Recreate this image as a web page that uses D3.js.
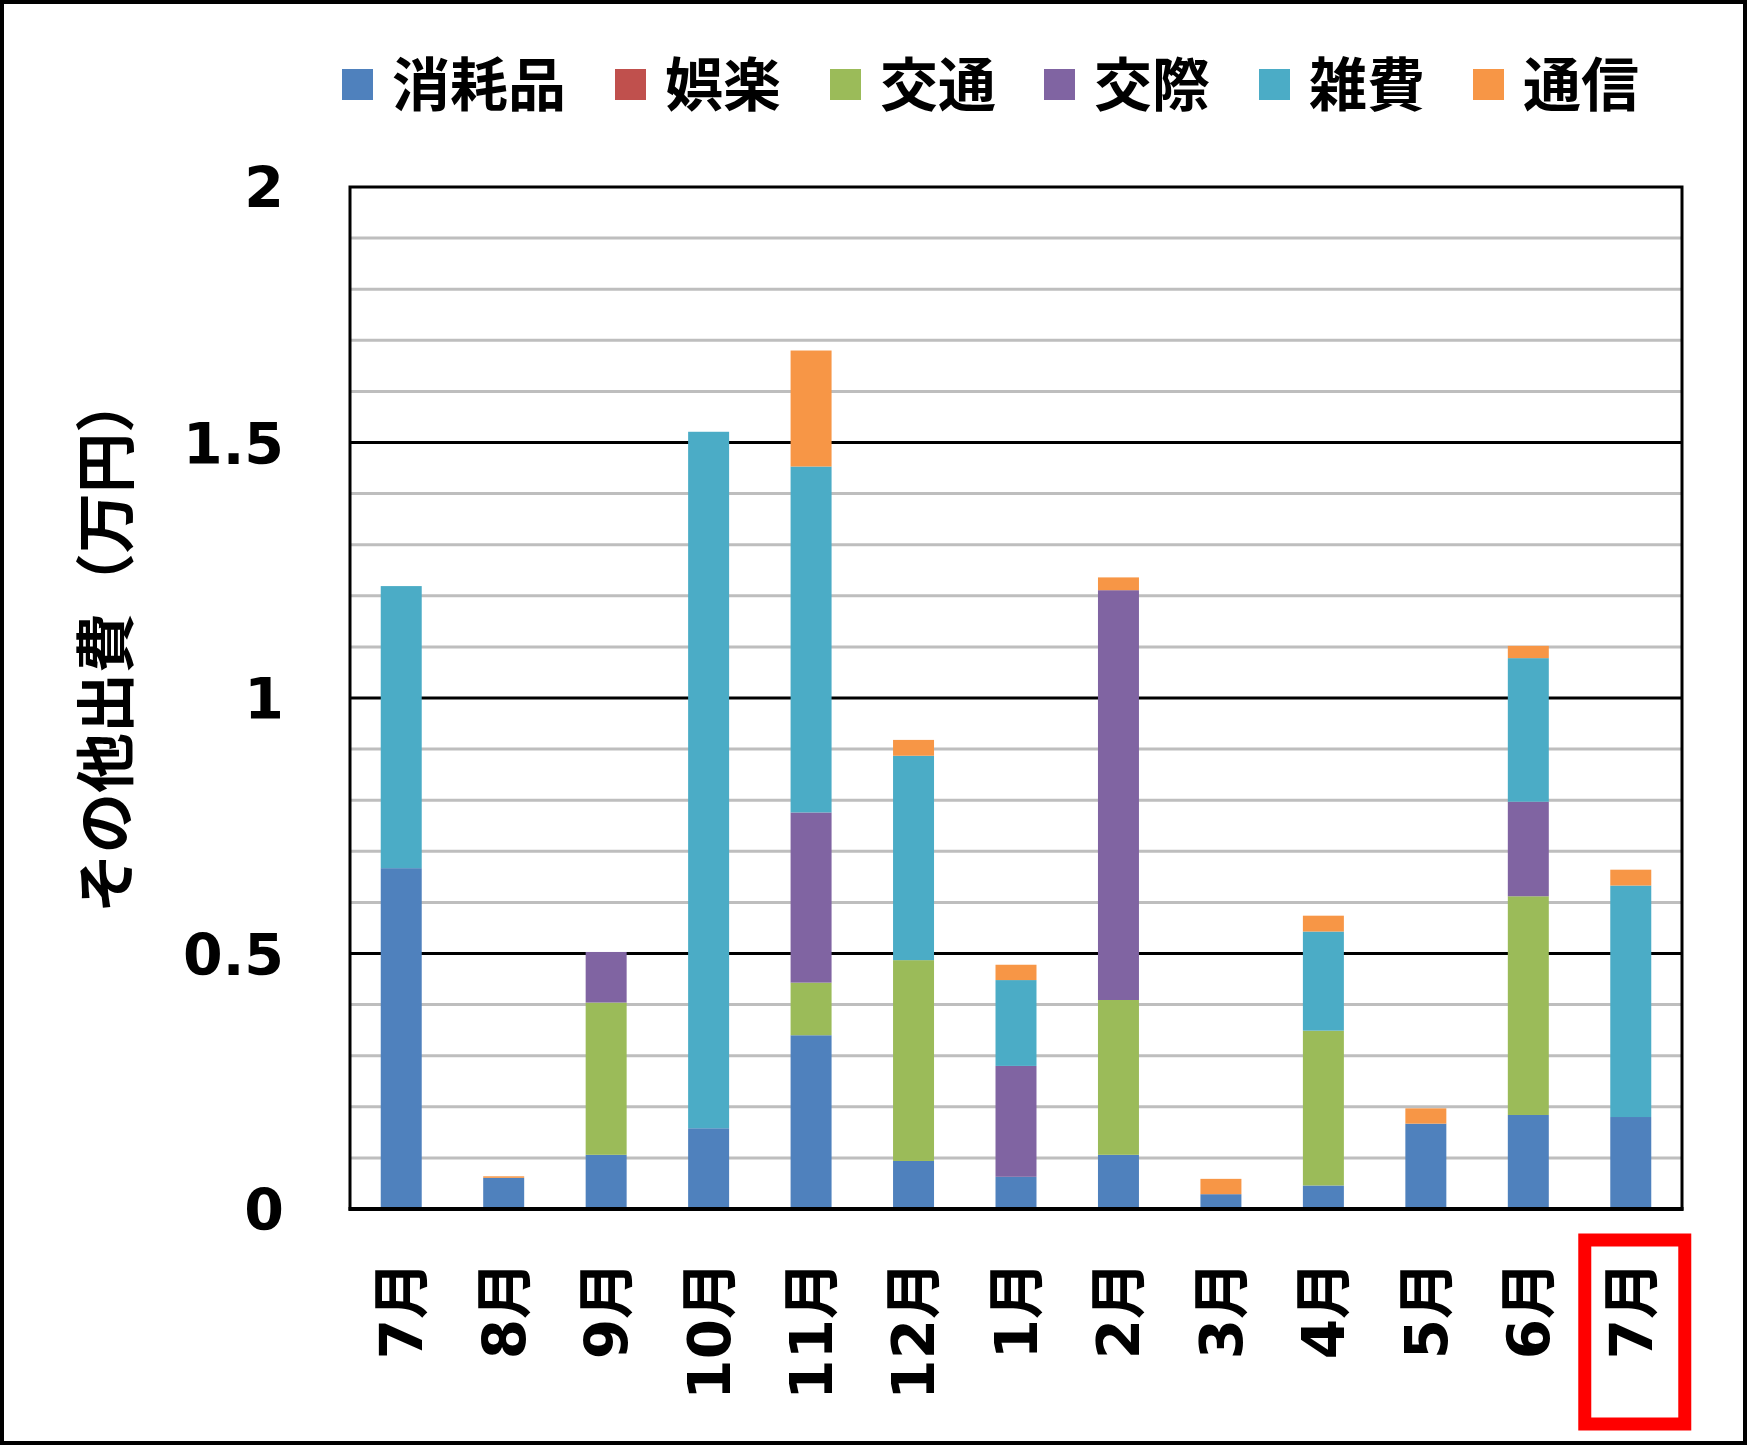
<!DOCTYPE html>
<html>
<head>
<meta charset="utf-8">
<script src="https://cdn.jsdelivr.net/npm/d3@7"></script>
<style>
  html, body { margin: 0; padding: 0; background: #fff; }
  svg { display: block; }
  text { font-family: "DejaVu Sans", "Noto Sans CJK JP", sans-serif; font-weight: bold; fill: #000; }
</style>
</head>
<body>
<div id="chart"></div>
<script>
// Months (July to July)
const months = ['7月', '8月', '9月', '10月', '11月', '12月', '1月', '2月', '3月', '4月', '5月', '6月', '7月'];

// Series, values in 万円
const shoumouhin = [0.667, 0.061, 0.106, 0.158, 0.340, 0.094, 0.063, 0.106, 0.029, 0.046, 0.167, 0.184, 0.180];
const goraku     = [0, 0, 0, 0, 0, 0, 0, 0, 0, 0, 0, 0, 0];
const koutsuu    = [0, 0, 0.298, 0, 0.103, 0.393, 0, 0.303, 0, 0.303, 0, 0.428, 0];
const kousai     = [0, 0, 0.099, 0, 0.333, 0, 0.217, 0.802, 0, 0, 0, 0.185, 0];
const zappi      = [0.552, 0, 0, 1.363, 0.677, 0.400, 0.168, 0, 0, 0.194, 0, 0.281, 0.453];
const tsuushin   = [0, 0.003, 0, 0, 0.227, 0.031, 0.030, 0.025, 0.030, 0.031, 0.030, 0.024, 0.031];

const seriesNames = ['消耗品', '娯楽', '交通', '交際', '雑費', '通信'];
const seriesColors = ['#4F81BD', '#C0504D', '#9BBB59', '#8064A2', '#4BACC6', '#F79646'];
const seriesValues = [shoumouhin, goraku, koutsuu, kousai, zappi, tsuushin];

const yTicks = [0, 0.5, 1, 1.5, 2];
const yTitle = 'その他出費（万円）';

const width = 1747, height = 1445;
const margin = { left: 350, right: 65, top: 187, bottom: 236 };

const svg = d3.select('#chart').append('svg')
  .attr('width', width)
  .attr('height', height);

// Outer frame
svg.append('rect')
  .attr('x', 2).attr('y', 2)
  .attr('width', width - 4).attr('height', height - 4)
  .attr('fill', '#fff').attr('stroke', '#000').attr('stroke-width', 4);

const x = d3.scaleBand()
  .domain(d3.range(months.length))
  .range([margin.left, width - margin.right])
  .paddingInner(0.6)
  .paddingOuter(0.3);

const y = d3.scaleLinear()
  .domain([0, 2])
  .range([height - margin.bottom, margin.top]);

// Table for the stack
const table = months.map((m, i) => {
  const row = { i };
  seriesNames.forEach((s, k) => { row[s] = seriesValues[k][i]; });
  return row;
});
const stacked = d3.stack().keys(seriesNames)(table);

// Minor gridlines every 0.1
const minor = d3.range(1, 20).map(v => v / 10).filter(v => Math.abs(v * 2 - Math.round(v * 2)) > 1e-6);
svg.append('g')
  .selectAll('line')
  .data(minor)
  .join('line')
  .attr('x1', margin.left).attr('x2', width - margin.right)
  .attr('y1', d => y(d)).attr('y2', d => y(d))
  .attr('stroke', '#BEBEBE').attr('stroke-width', 3);

// Major gridlines
svg.append('g')
  .selectAll('line')
  .data(yTicks.filter(v => v > 0 && v < 2))
  .join('line')
  .attr('x1', margin.left).attr('x2', width - margin.right)
  .attr('y1', d => y(d)).attr('y2', d => y(d))
  .attr('stroke', '#000').attr('stroke-width', 3);

// Bars
svg.append('g')
  .selectAll('g')
  .data(stacked)
  .join('g')
  .attr('fill', (d, k) => seriesColors[k])
  .selectAll('rect')
  .data(d => d.filter(p => p[1] - p[0] > 0))
  .join('rect')
  .attr('x', p => x(p.data.i))
  .attr('width', x.bandwidth())
  .attr('y', p => y(p[1]))
  .attr('height', p => y(p[0]) - y(p[1]));

// Plot border
svg.append('rect')
  .attr('x', margin.left).attr('y', margin.top)
  .attr('width', width - margin.left - margin.right)
  .attr('height', height - margin.top - margin.bottom)
  .attr('fill', 'none').attr('stroke', '#000').attr('stroke-width', 3);
svg.append('line')
  .attr('x1', margin.left - 1.5).attr('x2', width - margin.right + 1.5)
  .attr('y1', y(0)).attr('y2', y(0))
  .attr('stroke', '#000').attr('stroke-width', 4);

// Y axis labels
const yAxis = d3.axisLeft(y).tickValues(yTicks).tickFormat(d3.format('')).tickSize(0).tickPadding(66);
const yg = svg.append('g')
  .attr('transform', `translate(${margin.left},0)`)
  .call(yAxis);
yg.select('.domain').remove();
yg.selectAll('text')
  .attr('font-size', 57)
  .attr('font-family', '"DejaVu Sans", sans-serif')
  .attr('font-weight', 'bold')
  .attr('fill', '#000')
  .attr('dy', '0.36em');

// X axis labels, rotated
const xAxis = d3.axisBottom(x).tickFormat(i => months[i]).tickSize(0).tickPadding(0);
const xg = svg.append('g')
  .attr('transform', `translate(0,${y(0)})`)
  .call(xAxis);
xg.select('.domain').remove();
xg.selectAll('text')
  .attr('font-size', 58)
  .attr('font-family', '"DejaVu Sans", "Noto Sans CJK JP", sans-serif')
  .attr('font-weight', 'bold')
  .attr('fill', '#000')
  .attr('text-anchor', 'end')
  .attr('transform', 'translate(0,52) rotate(-90)')
  .attr('x', 0).attr('y', 0)
  .attr('dy', '0.36em');

// Highlight box around the last month
const lastX = x(months.length - 1) + x.bandwidth() / 2;
svg.append('rect')
  .attr('x', lastX - 46).attr('y', 1240)
  .attr('width', 100).attr('height', 184)
  .attr('fill', 'none').attr('stroke', '#FF0000').attr('stroke-width', 13);

// Y axis title
svg.append('text')
  .attr('transform', 'translate(106,643) rotate(-90)')
  .attr('text-anchor', 'middle')
  .attr('dy', '0.36em')
  .attr('font-size', 60)
  .attr('font-family', '"Noto Sans CJK JP", sans-serif')
  .text(yTitle);

// Legend
const legendX = [342, 615, 830, 1044, 1259, 1473];
const legend = svg.append('g')
  .selectAll('g')
  .data(seriesNames)
  .join('g')
  .attr('transform', (d, k) => `translate(${legendX[k]},69)`);
legend.append('rect')
  .attr('width', 31).attr('height', 31)
  .attr('fill', (d, k) => seriesColors[k]);
legend.append('text')
  .attr('x', 50).attr('y', 16)
  .attr('dy', '0.36em')
  .attr('font-size', 58)
  .attr('font-family', '"Noto Sans CJK JP", sans-serif')
  .text(d => d);
</script>
</body>
</html>
